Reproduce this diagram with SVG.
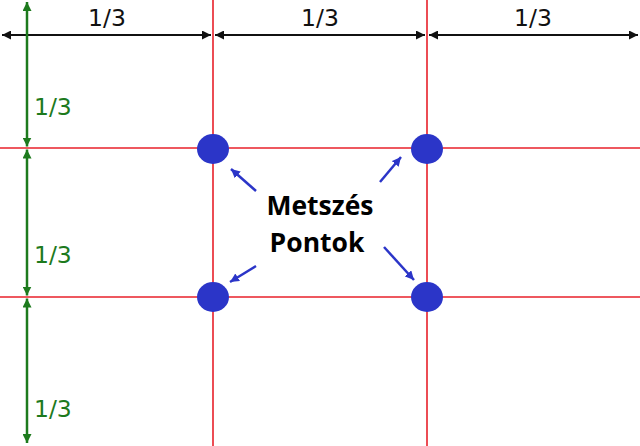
<svg xmlns="http://www.w3.org/2000/svg" width="640" height="446" viewBox="0 0 640 446">
<style>
.grid{stroke:#e8202a;stroke-width:1.6;fill:none}
.dim{stroke:#111;stroke-width:2;fill:none}
.gdim{stroke:#1d7a1d;stroke-width:2.5;fill:none}
.ptr{stroke:#2b35c8;stroke-width:2.5;fill:none}
.dot{fill:#2b35c8}
.lbl{font-family:"DejaVu Sans",Verdana,sans-serif;font-size:23.5px}
.title{font-family:"Open Sans","Liberation Sans",Arial,sans-serif;font-size:26.5px;font-weight:bold;fill:#000;text-anchor:middle}
</style>
<defs>
<marker id="ah" viewBox="0 0 10 10" refX="10" refY="5" markerWidth="4.5" markerHeight="4.5" orient="auto-start-reverse" markerUnits="strokeWidth"><path d="M0,0 L10,5 L0,10 z" fill="#111"/></marker>
<marker id="ag" viewBox="0 0 10 10" refX="10" refY="5" markerWidth="3.6" markerHeight="3.6" orient="auto-start-reverse" markerUnits="strokeWidth"><path d="M0,0 L10,5 L0,10 z" fill="#1d7a1d"/></marker>
<marker id="ab" viewBox="0 0 10 10" refX="10" refY="5" markerWidth="3.6" markerHeight="3.6" orient="auto" markerUnits="strokeWidth"><path d="M0,0 L10,5 L0,10 z" fill="#2b35c8"/></marker>
</defs>
<rect width="640" height="446" fill="#ffffff"/>
<g id="grid">
<line class="grid" x1="213" y1="0" x2="213" y2="446"/>
<line class="grid" x1="427" y1="0" x2="427" y2="446"/>
<line class="grid" x1="0" y1="148" x2="640" y2="148"/>
<line class="grid" x1="0" y1="297" x2="640" y2="297"/>
</g>
<g id="connectors">
<line class="dim" x1="2" y1="35" x2="211" y2="35" marker-start="url(#ah)" marker-end="url(#ah)"/>
<line class="dim" x1="215" y1="35" x2="425" y2="35" marker-start="url(#ah)" marker-end="url(#ah)"/>
<line class="dim" x1="429" y1="35" x2="638" y2="35" marker-start="url(#ah)" marker-end="url(#ah)"/>
<line class="gdim" x1="27" y1="2" x2="27" y2="146.5" marker-start="url(#ag)" marker-end="url(#ag)"/>
<line class="gdim" x1="27" y1="149.5" x2="27" y2="295.5" marker-start="url(#ag)" marker-end="url(#ag)"/>
<line class="gdim" x1="27" y1="298.5" x2="27" y2="443" marker-start="url(#ag)" marker-end="url(#ag)"/>
<line class="ptr" x1="256" y1="191" x2="231" y2="169" marker-end="url(#ab)"/>
<line class="ptr" x1="380" y1="182" x2="401" y2="157" marker-end="url(#ab)"/>
<line class="ptr" x1="256" y1="266" x2="230" y2="282" marker-end="url(#ab)"/>
<line class="ptr" x1="384" y1="247" x2="414" y2="280" marker-end="url(#ab)"/>
</g>
<g id="labels">
<text class="lbl" x="107" y="26" text-anchor="middle" fill="#111">1/3</text>
<text class="lbl" x="320" y="26" text-anchor="middle" fill="#111">1/3</text>
<text class="lbl" x="533" y="26" text-anchor="middle" fill="#111">1/3</text>
<text class="lbl" x="34" y="115" fill="#1d7a1d">1/3</text>
<text class="lbl" x="34" y="263" fill="#1d7a1d">1/3</text>
<text class="lbl" x="34" y="417" fill="#1d7a1d">1/3</text>
</g>
<g id="p1"><ellipse class="dot" cx="213" cy="149" rx="16" ry="15"/></g>
<g id="p2"><ellipse class="dot" cx="427" cy="149" rx="16" ry="15"/></g>
<g id="p3"><ellipse class="dot" cx="213" cy="297" rx="16" ry="15"/></g>
<g id="p4"><ellipse class="dot" cx="427" cy="297" rx="16" ry="15"/></g>
<g id="title">
<text class="title" x="320" y="215">Metszés</text>
<text class="title" x="317" y="252">Pontok</text>
</g>
</svg>
